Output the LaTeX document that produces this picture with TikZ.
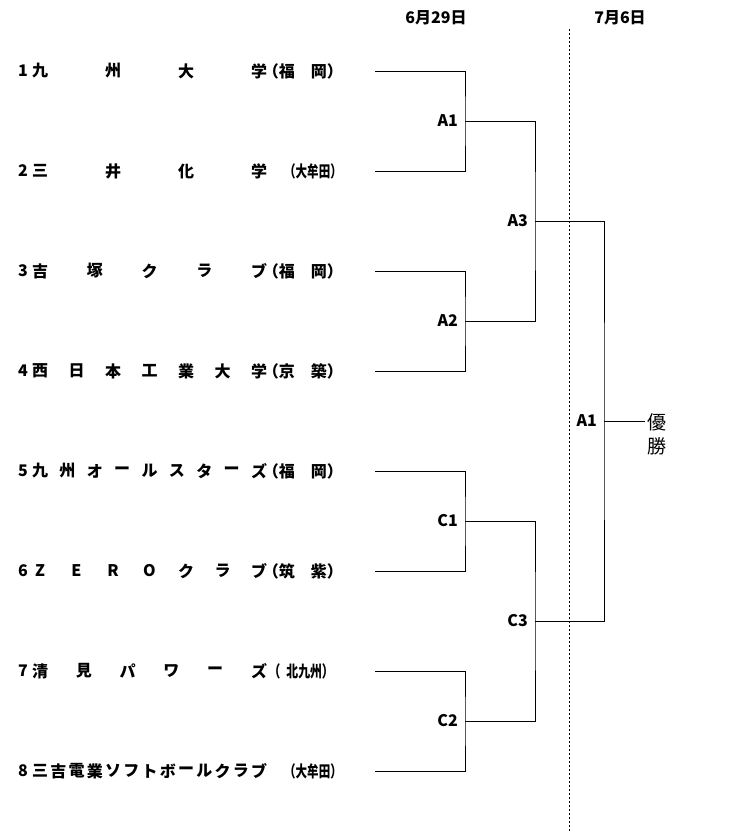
\documentclass[tikz,border=0pt]{standalone}
\usepackage{fontspec}
\setmainfont{Noto Sans CJK JP}
\usetikzlibrary{positioning}
\tikzset{
  team/.style={inner sep=0pt, font=\fontsize{16}{18}\selectfont\bfseries},
  match/.style={inner sep=1pt, font=\fontsize{16}{18}\selectfont\bfseries},
  bracket/.style={line width=1pt},
  daysep/.style={line width=1pt, dash pattern=on 2pt off 2pt}
}
\newcommand{\pref}[2]{（#1\hspace{16pt}#2）}

\begin{document}
\begin{tikzpicture}[x=1pt, y=-1pt]
    \useasboundingbox (0,0) rectangle (745,833);

    % dates
    \node[team] (d1) at (436,18) {6月29日};
    \node[team] (d2) at (620,18) {7月6日};
    \coordinate (s1) at (569,29);
    \coordinate (s2) at (569,833);
    \draw[daysep] (s1) -- (s2);

    % teams: number / chars in name / name / area / right edge of area
    \foreach \i/\n/\name/\area/\e in {
        1/4/{九,州,大,学}/{\pref{福}{岡}}/343,
        2/4/{三,井,化,学}/{\scalebox{0.72}[1]{（大牟田）}}/342,
        3/5/{吉,塚,ク,ラ,ブ}/{\pref{福}{岡}}/343,
        4/7/{西,日,本,工,業,大,学}/{\pref{京}{築}}/343,
        5/9/{九,州,オ,ー,ル,ス,タ,ー,ズ}/{\pref{福}{岡}}/343,
        6/7/{Z,E,R,O,ク,ラ,ブ}/{\pref{筑}{紫}}/343,
        7/6/{清,見,パ,ワ,ー,ズ}/{\scalebox{0.74}[1]{（\hspace{8pt}北九州）}}/334,
        8/13/{三,吉,電,業,ソ,フ,ト,ボ,ー,ル,ク,ラ,ブ}/{\scalebox{0.72}[1]{（大牟田）}}/342}
    {
        \pgfmathsetmacro{\y}{71+100*(\i-1)}
        \node[team] (n\i) at (23,\y) {\i};
        \foreach \c [count=\k from 0] in \name
            \node[team] at ({40+\k*219/(\n-1)},\y) {\c};
        \node[team, anchor=east] (a\i) at (\e,\y) {\area};
        \coordinate (t\i) at (375,\y);
    }

    % rounds
    \coordinate (mA1) at (465,121);
    \coordinate (mA2) at (465,321);
    \coordinate (mC1) at (465,521);
    \coordinate (mC2) at (465,721);
    \coordinate (mA3) at (535,221);
    \coordinate (mC3) at (535,621);
    \coordinate (fin) at (604,421);

    \draw[bracket] (t1) -| (mA1) |- (t2);
    \draw[bracket] (t3) -| (mA2) |- (t4);
    \draw[bracket] (t5) -| (mC1) |- (t6);
    \draw[bracket] (t7) -| (mC2) |- (t8);
    \draw[bracket] (mA1) -| (mA3) |- (mA2);
    \draw[bracket] (mC1) -| (mC3) |- (mC2);
    \draw[bracket] (mA3) -| (fin) |- (mC3);

    \foreach \m/\t in {mA1/A1, mA2/A2, mC1/C1, mC2/C2, mA3/A3, mC3/C3, fin/A1}
        \node[match, left=6pt of \m] {\t};

    \node[team, align=center, inner sep=2pt, font=\fontsize{19}{24}\selectfont] (win) at (657,434) {優\\勝};
    \draw[bracket] (fin) -- (win.west |- fin);
\end{tikzpicture}
\end{document}
